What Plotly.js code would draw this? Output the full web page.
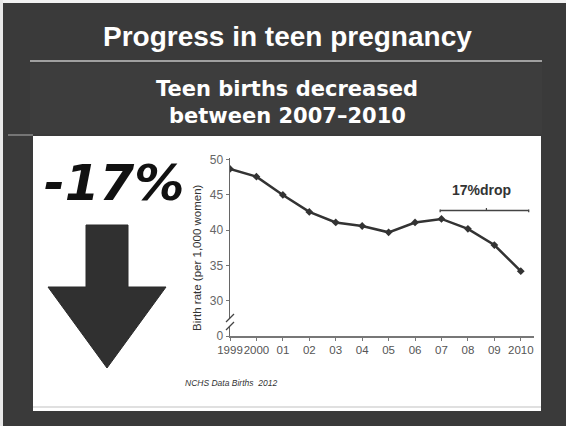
<!DOCTYPE html>
<html>
<head>
<meta charset="utf-8">
<script src="https://cdn.plot.ly/plotly-3.0.1.min.js"></script>
<style>html,body{margin:0;padding:0;background:#3a3a3a;}#chart{width:566px;height:426px;}</style>
</head>
<body>
<div id="chart"></div>
<script>
// ---- data ----
const years = [1999, 2000, 2001, 2002, 2003, 2004, 2005, 2006, 2007, 2008, 2009, 2010];
const birthRate = [48.7, 47.6, 45.0, 42.6, 41.1, 40.6, 39.7, 41.1, 41.6, 40.2, 37.9, 34.2];
const xTickLabels = ['1999', '2000', '01', '02', '03', '04', '05', '06', '07', '08', '09', '2010'];
const yTickVals = [25, 30, 35, 40, 45, 50];
const yTickLabels = ['0', '30', '35', '40', '45', '50'];
const dropStartYear = 2007;
const dropEndYear = 2010;
const dropLevel = 42.8;

// ---- layout helpers (pixel -> paper) ----
const W = 566, H = 426;
const px = v => v / W;
const py = v => 1 - v / H;

const shapes = [
  {type:'rect', xref:'paper', yref:'paper', x0:0, x1:1, y0:py(3), y1:1, fillcolor:'#f2f2f2', line:{width:0}, layer:'below'},
  {type:'rect', xref:'paper', yref:'paper', x0:0, x1:px(3), y0:0, y1:1, fillcolor:'#e8e8e8', line:{width:0}, layer:'below'},
  {type:'rect', xref:'paper', yref:'paper', x0:px(30), x1:px(542), y0:py(134), y1:py(64), fillcolor:'#3d3d3d', line:{width:0}, layer:'below'},
  {type:'line', xref:'paper', yref:'paper', x0:px(30), x1:px(542), y0:py(61), y1:py(61), line:{color:'#a0a0a0', width:2}, layer:'below'},
  {type:'line', xref:'paper', yref:'paper', x0:px(8), x1:px(33), y0:py(135), y1:py(135), line:{color:'#8a8a8a', width:1.5}, layer:'below'},
  {type:'rect', xref:'paper', yref:'paper', x0:px(33), x1:px(541), y0:py(411), y1:py(136), fillcolor:'#ffffff', line:{width:0}, layer:'below'},
  {type:'line', xref:'paper', yref:'paper', x0:px(33), x1:px(541), y0:py(407), y1:py(407), line:{color:'#d6d6d6', width:1.5}, layer:'below'},
  {type:'path', xref:'paper', yref:'paper',
   path:`M ${px(86)} ${py(225)} L ${px(128)} ${py(225)} L ${px(128)} ${py(287)} L ${px(166)} ${py(287)} L ${px(107)} ${py(368)} L ${px(48)} ${py(287)} L ${px(86)} ${py(287)} Z`,
   fillcolor:'#303030', line:{color:'#2a2a2a', width:1}, layer:'below'},
  {type:'rect', xref:'paper', yref:'paper', x0:px(226), x1:px(234), y0:py(326), y1:py(318), fillcolor:'#ffffff', line:{width:0}, layer:'above'},
  {type:'line', xref:'paper', yref:'paper', x0:px(226), x1:px(234), y0:py(322), y1:py(314), line:{color:'#444', width:1.3}, layer:'above'},
  {type:'line', xref:'paper', yref:'paper', x0:px(226), x1:px(234), y0:py(330), y1:py(322), line:{color:'#444', width:1.3}, layer:'above'},
  {type:'line', xref:'x', yref:'y', x0:dropStartYear - 0.05, x1:dropEndYear + 0.3, y0:dropLevel, y1:dropLevel, line:{color:'#444', width:1.3}},
  {type:'line', xref:'x', yref:'y', x0:dropStartYear - 0.05, x1:dropStartYear - 0.05, y0:dropLevel - 0.25, y1:dropLevel + 0.15, line:{color:'#444', width:1.3}},
  {type:'line', xref:'x', yref:'y', x0:dropEndYear + 0.3, x1:dropEndYear + 0.3, y0:dropLevel - 0.25, y1:dropLevel + 0.15, line:{color:'#444', width:1.3}},
  {type:'line', xref:'x', yref:'y', x0:(dropStartYear + dropEndYear) / 2 + 0.2, x1:(dropStartYear + dropEndYear) / 2 + 0.2, y0:dropLevel, y1:dropLevel + 0.35, line:{color:'#444', width:1.2}}
];

const annotations = [
  {xref:'paper', yref:'paper', x:px(287), y:py(36), xanchor:'center', yanchor:'middle', showarrow:false,
   text:'<b>Progress in teen pregnancy</b>', font:{family:'Liberation Sans, Arial, sans-serif', size:28, color:'#ffffff'}},
  {xref:'paper', yref:'paper', x:px(287), y:py(89), xanchor:'center', yanchor:'middle', showarrow:false,
   text:'<b>Teen births decreased</b>', font:{family:'DejaVu Sans, sans-serif', size:21, color:'#ffffff'}},
  {xref:'paper', yref:'paper', x:px(287), y:py(116), xanchor:'center', yanchor:'middle', showarrow:false,
   text:'<b>between 2007–2010</b>', font:{family:'DejaVu Sans, sans-serif', size:21, color:'#ffffff'}},
  {xref:'paper', yref:'paper', x:px(114), y:py(183), xanchor:'center', yanchor:'middle', showarrow:false,
   text:'<b><i>-17%</i></b>', font:{family:'DejaVu Sans, sans-serif', size:50, color:'#111111'}},
  {xref:'paper', yref:'paper', x:px(481), y:py(190), xanchor:'center', yanchor:'middle', showarrow:false,
   text:'<b>17%drop</b>', font:{family:'Liberation Sans, Arial, sans-serif', size:14, color:'#333333'}},
  {xref:'paper', yref:'paper', x:px(197), y:py(258), xanchor:'center', yanchor:'middle', showarrow:false, textangle:-90,
   text:'Birth rate (per 1,000 women)', font:{family:'Liberation Sans, Arial, sans-serif', size:11.5, color:'#333'}},
  {xref:'paper', yref:'paper', x:px(183), y:py(383), xanchor:'left', yanchor:'middle', showarrow:false,
   text:'<i>NCHS Data Births  2012</i>', font:{family:'Liberation Sans, Arial, sans-serif', size:8.5, color:'#333333'}}
];

const trace = {
  x: years, y: birthRate, type:'scatter', mode:'lines+markers',
  line:{color:'#333333', width:2.5},
  marker:{color:'#333333', size:6, symbol:'diamond'},
  hoverinfo:'skip'
};

const layout = {
  width: W, height: H,
  margin:{l:0, r:0, t:0, b:0},
  paper_bgcolor:'#3a3a3a',
  plot_bgcolor:'rgba(0,0,0,0)',
  showlegend:false,
  xaxis:{
    domain:[px(230), px(534)],
    range:[1999, 2010.5],
    tickvals: years, ticktext: xTickLabels,
    tickangle:0,
    ticks:'outside', ticklen:3, tickcolor:'#777',
    showline:true, linecolor:'#777', linewidth:1.5,
    showgrid:false, zeroline:false,
    tickfont:{family:'Liberation Sans, Arial, sans-serif', size:11.5, color:'#555'}
  },
  yaxis:{
    domain:[py(336), py(157.6)],
    range:[25, 50.3],
    tickvals: yTickVals, ticktext: yTickLabels,
    ticks:'outside', ticklen:3, tickcolor:'#777',
    showline:true, linecolor:'#666', linewidth:1.5,
    showgrid:false, zeroline:false,
    tickfont:{family:'Liberation Sans, Arial, sans-serif', size:12, color:'#666'}
  },
  shapes: shapes,
  annotations: annotations
};

Plotly.newPlot('chart', [trace], layout, {staticPlot:true, displayModeBar:false});
</script>
</body>
</html>
